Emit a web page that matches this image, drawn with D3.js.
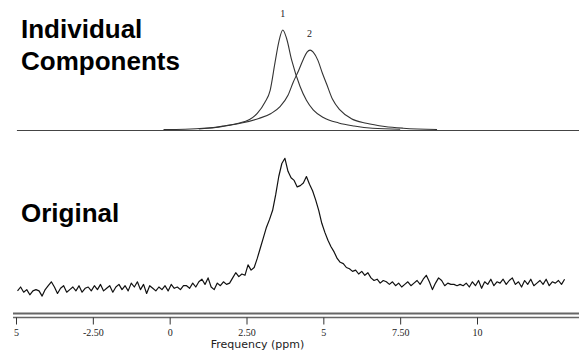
<!DOCTYPE html>
<html><head><meta charset="utf-8">
<script src="https://cdn.jsdelivr.net/npm/d3@7"></script>
<style>
html,body{margin:0;padding:0;background:#fff;}
svg{display:block;}
</style></head>
<body>
<svg id="chart" width="579" height="358"></svg>
<script>
// ---- data ----
const tickValues = [-5, -2.5, 0, 2.5, 5, 7.5, 10];
const tickLabels = ["5", "-2.50", "0", "2.50", "5", "7.50", "10"];
const axisTitle = "Frequency (ppm)";

// Component 1 (ppm, relative intensity)
const comp1 = [[-0.2,1.0],[0.5,1.3],[1.2,2.5],[1.6,3.8],[2.2,7],[2.6,11],[2.85,17],[3.1,28],[3.27,40],
  [3.43,68],[3.55,88],[3.68,100],[3.8,92],[3.97,70],[4.24,44],[4.45,30],[4.67,20.5],[5.0,13],
  [5.5,7.5],[6.0,4.5],[6.6,2.2],[7.5,1.2]];
// Component 2
const comp2 = [[0.95,1.6],[1.5,3],[1.8,4.5],[2.3,7.2],[2.9,12],[3.3,17],[3.6,24],[3.85,35],[4.02,48],
  [4.2,60],[4.35,71],[4.47,78],[4.57,80],[4.67,78],[4.82,70],[4.97,57],[5.11,46],[5.3,31],
  [5.54,20.5],[5.9,12],[6.4,7.2],[7.0,4],[7.6,2.3],[8.7,1.0]];
const compBaseline = [-4.97, 13.4];
const peakLabels = [{label:"1", ppm:3.68, value:100},{label:"2", ppm:4.55, value:80}];

// Original spectrum, sampled every 0.1 ppm from -4.95 ppm
const origStart = -4.95, origStep = 0.1;
const origValues = [
 -3,0,-4,-2,-6,-3,-2,-3,-7,-2, 1,4,0,-5,-1,1,-4,-2,0,-3, 1,-4,-1,0,-3,1,-2,2,-3,-1,
 1,-4,0,2,-2,1,-3,3,0,4, -2,2,-5,1,-1,-3,0,-2,1,-3, 2,-1,0,-2,1,
 1,-1,3,0,4,6,2,7,0,-2, 3,1,4,2,3,7,11,8,10,9, 17,13,15,22,30,38,46,52,59,71,
 85,95,99,89,84,82,77,78,80,85, 79,74,67,59,49,42,36,31,27,22, 19,18,15,14,12,13,10,12,9,11,
 7,5,6,3,5,4,
 2,4,1,3,0,2,4,1,3,5, 2,6,9,4,-2,3,7,5,1,3, 2,2,1,2,1,3,0,4,1,5,
 -1,4,2,6,1,4,3,6,2,5, 7,2,4,0,5,2,6,1,3,5, 2,6,1,4,3,5,2,6];
const origPpm = origValues.map((v,i) => origStart + origStep*i);

// ---- drawing ----
const svg = d3.select("#chart");
const x = d3.scaleLinear().domain([-5, 10]).range([16, 477]);
const yComp = d3.scaleLinear().domain([0, 100]).range([130.5, 30]);
const yOrig = d3.scaleLinear().domain([0, 100]).range([287, 157]);

// panel titles
const titleFont = "'Liberation Sans', Arial, sans-serif";
[["Individual", 38], ["Components", 70], ["Original", 222]].forEach(([t, yy]) => {
  svg.append("text").attr("x", 21).attr("y", yy).text(t)
    .attr("font-family", titleFont).attr("font-weight", "bold").attr("font-size", 26).attr("fill", "#000");
});

// component baseline
svg.append("line")
  .attr("x1", x(compBaseline[0])).attr("x2", x(compBaseline[1]))
  .attr("y1", yComp(0)).attr("y2", yComp(0))
  .attr("stroke", "#444").attr("stroke-width", 1);

const compLine = d3.line().x(d => x(d[0])).y(d => yComp(d[1])).curve(d3.curveMonotoneX);
[comp1, comp2].forEach(c => {
  svg.append("path").datum(c).attr("d", compLine)
    .attr("fill", "none").attr("stroke", "#333").attr("stroke-width", 1.1);
});

svg.selectAll(".plabel").data(peakLabels).join("text")
  .attr("class", "plabel")
  .attr("x", d => x(d.ppm)).attr("y", d => yComp(d.value) - 13)
  .attr("text-anchor", "middle")
  .attr("font-family", "'Liberation Serif', 'Times New Roman', serif")
  .attr("font-size", 10).attr("fill", "#222")
  .text(d => d.label);

// original spectrum
const origLine = d3.line().x((d,i) => x(origPpm[i])).y(d => yOrig(d));
svg.append("path").datum(origValues).attr("d", origLine)
  .attr("fill", "none").attr("stroke", "#111").attr("stroke-width", 1.2)
  .attr("stroke-linejoin", "round");

// axis: double line
svg.append("line").attr("x1", 13).attr("x2", 579).attr("y1", 313.5).attr("y2", 313.5)
  .attr("stroke", "#666").attr("stroke-width", 2);
svg.append("line").attr("x1", 13).attr("x2", 579).attr("y1", 317.5).attr("y2", 317.5)
  .attr("stroke", "#666").attr("stroke-width", 1.3);

const axis = d3.axisBottom(x).tickValues(tickValues)
  .tickFormat((d,i) => tickLabels[i]).tickSize(7).tickPadding(4);
const ag = svg.append("g").attr("transform", "translate(0,317.5)").call(axis);
ag.select(".domain").remove();
ag.selectAll(".tick line").attr("stroke", "#333");
ag.selectAll(".tick text")
  .attr("font-family", "'Liberation Serif', 'Times New Roman', serif")
  .attr("font-size", 10).attr("fill", "#222");

svg.append("text").attr("x", 257.5).attr("y", 348).attr("text-anchor", "middle")
  .attr("font-family", "'DejaVu Sans', sans-serif").attr("font-size", 11).attr("fill", "#222")
  .text(axisTitle);
</script>
</body></html>
